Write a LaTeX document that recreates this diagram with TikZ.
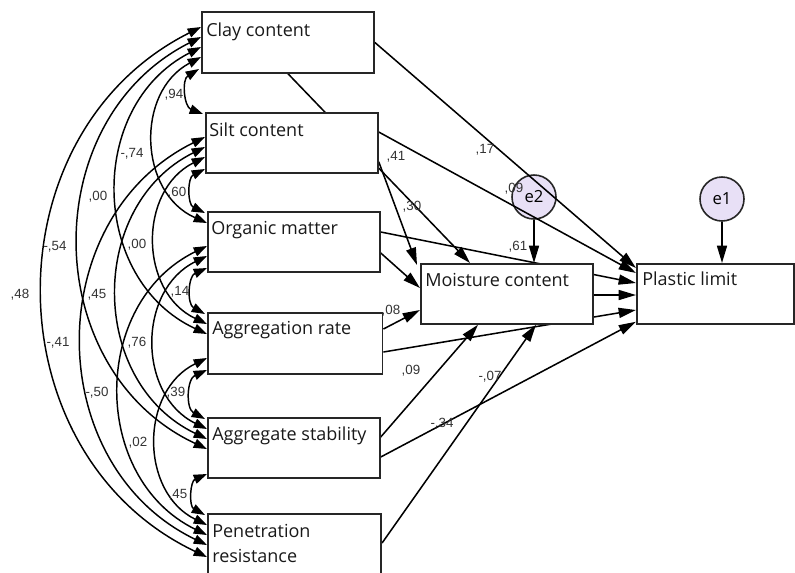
\documentclass[tikz,border=0pt]{standalone}
\usepackage{fontspec}
\setmainfont{Open Sans}
\newfontfamily\coeffont{Liberation Sans}
\usetikzlibrary{arrows.meta,calc}
\pgfdeclarelayer{circ}
\pgfdeclarelayer{lines}
\pgfsetlayers{circ,lines,main}
\definecolor{errfill}{RGB}{232,224,246}
\begin{document}
\begin{tikzpicture}[x=0.75pt,y=-0.75pt,
  box/.style={draw=black!85, line width=1.3pt, fill=white, anchor=north west,
    minimum height=45pt, inner sep=0pt},
  boxtext/.style={anchor=base west, inner sep=0pt, font=\fontsize{13.5}{16}\selectfont, text=black!90},
  errvar/.style={circle, draw=black!85, line width=1.2pt, fill=errfill, minimum size=33pt,
    inner sep=0pt, font=\fontsize{12.5}{14}\selectfont},
  coef/.style={inner sep=0.5pt, font=\coeffont\fontsize{10}{11}\selectfont, text=black!80},
  regpath/.style={line width=1.15pt, -{Triangle[length=13pt,width=7.5pt]}},
  cov/.style={line width=1.1pt, {Triangle[length=10pt,width=7pt]}-{Triangle[length=10pt,width=7pt]},
    bend right=64, looseness=1.15}]
\useasboundingbox (0,0) rectangle (795,572);

% observed variables
\node[box, minimum width=129pt, minimum height=45.75pt] (clay) at (201,11) {};
\node[box, minimum width=129pt] (silt) at (205,112) {};
\node[box, minimum width=129pt] (org)  at (207,211) {};
\node[box, minimum width=131pt, minimum height=45.75pt] (agg)  at (207,312) {};
\node[box, minimum width=129pt] (stab) at (207,417) {};
\node[box, minimum width=130pt, minimum height=48pt] (pen)  at (207,513) {};
\node[box, minimum width=129pt] (mc)   at (420,263) {};
\node[box, minimum width=118pt] (pl)   at (636,263) {};

\node[boxtext] (clayT) at ($(clay.north west)+(5,25)$) {Clay content};
\node[boxtext] (siltT) at ($(silt.north west)+(4,24)$) {Silt content};
\node[boxtext] (orgT)  at ($(org.north west)+(4,23)$) {Organic matter};
\node[boxtext] (aggT)  at ($(agg.north west)+(5,22)$) {Aggregation rate};
\node[boxtext] (stabT) at ($(stab.north west)+(5,23)$) {Aggregate stability};
\node[boxtext] (penT1) at ($(pen.north west)+(5,24)$) {Penetration};
\node[boxtext] (penT2) at ($(pen.north west)+(5,49)$) {resistance};
\node[boxtext] (mcT)   at ($(mc.north west)+(5,23)$) {Moisture content};
\node[boxtext] (plT)   at ($(pl.north west)+(6,22)$) {Plastic limit};

% error terms
\begin{pgfonlayer}{circ}
\node[errvar] (e2) at (534,197) {e2};
\node[errvar] (e1) at (722,199) {e1};
\end{pgfonlayer}

\begin{pgfonlayer}{lines}
% covariances between the exogenous variables
\draw[cov] ($(clay.north west)+(-2,58)$) to ($(silt.north west)+(-2,2)$);
\draw[cov] ($(silt.north west)+(0,57)$) to ($(org.north west)+(-2,2)$);
\draw[cov] ($(org.north west)+(0,57)$) to ($(agg.north west)+(-2,2)$);
\draw[cov] ($(agg.north west)+(0,58)$) to ($(stab.north west)+(-2,2)$);
\draw[cov] ($(stab.north west)+(0,57)$) to ($(pen.north west)+(-2,2)$);

\draw[cov] ($(clay.north west)+(0,46)$) to ($(org.north west)+(0,12)$);
\draw[cov] ($(silt.north west)+(0,45)$) to ($(agg.north west)+(0,12)$);
\draw[cov] ($(org.north west)+(0,45)$) to ($(stab.north west)+(0,12)$);
\draw[cov] ($(agg.north west)+(0,46)$) to ($(pen.north west)+(0,12)$);

\draw[cov] ($(clay.north west)+(0,36)$) to ($(agg.north west)+(0,22)$);
\draw[cov] ($(silt.north west)+(0,35)$) to ($(stab.north west)+(0,22)$);
\draw[cov] ($(org.north west)+(0,35)$) to ($(pen.north west)+(0,22)$);

\draw[cov] ($(clay.north west)+(0,26)$) to ($(stab.north west)+(0,32)$);
\draw[cov] ($(silt.north west)+(0,25)$) to ($(pen.north west)+(0,32)$);

\draw[cov] ($(clay.north west)+(0,16)$) to ($(pen.north west)+(0,44)$);

% regression paths
\draw[regpath] (clay.east) -- ($(pl.north west)+(0,5)$);
\draw[regpath] ($(clay.south west)+(87,0)$) -- ($(mc.north west)+(50,0)$);
\draw[regpath] ($(silt.north east)+(0,20)$) -- ($(pl.north west)+(0,10)$);
\draw[regpath] ($(silt.south east)+(0,-12)$) -- ($(mc.north west)+(-3,2)$);
\draw[regpath] ($(org.north east)+(0,21)$) -- ($(pl.north west)+(0,20)$);
\draw[regpath] ($(org.north east)+(0,42)$) -- ($(mc.north west)+(0,25)$);
\draw[regpath] ($(agg.north east)+(0,17)$) -- ($(mc.north west)+(0,47)$);
\draw[regpath] ($(agg.north east)+(0,40)$) -- ($(pl.north west)+(0,47)$);
\draw[regpath] ($(mc.north east)+(0,32)$) -- ($(pl.north west)+(0,32)$);
\draw[regpath] ($(stab.north east)+(0,20)$) -- ($(mc.south west)+(58,0)$);
\draw[regpath] ($(stab.north east)+(0,40)$) -- ($(pl.south west)+(0,-3)$);
\draw[regpath] ($(pen.north east)+(0,30)$) -- ($(mc.south west)+(116,0)$);
\draw[regpath] (e2.south) -- (e2.south |- mc.north);
\draw[regpath] (e1.south) -- (e1.south |- pl.north);
\end{pgfonlayer}

% covariance estimates
\node[coef] (c1)  at (174,95)  {,94};
\node[coef] (c2)  at (177,193) {,60};
\node[coef] (c3)  at (180,292) {,14};
\node[coef] (c4)  at (176,393) {,39};
\node[coef] (c5)  at (178,495) {,45};
\node[coef] (c6)  at (132,154) {-,74};
\node[coef] (c7)  at (137,245) {,00};
\node[coef] (c8)  at (137,343) {,76};
\node[coef] (c9)  at (138,443) {,02};
\node[coef] (c10) at (98,197)  {,00};
\node[coef] (c11) at (97,295)  {,45};
\node[coef] (c12) at (97,393)  {-,50};
\node[coef] (c13) at (55,247)  {-,54};
\node[coef] (c14) at (58,343)  {-,41};
\node[coef] (c15) at (20,295)  {,48};

% path estimates
\node[coef] (p1) at (396,157) {,41};
\node[coef] (p2) at (412,207) {,30};
\node[coef] (p3) at (485,150) {,17};
\node[coef] (p4) at (514,189) {,09};
\node[coef] (p5) at (518,247) {,61};
\node[coef] (p6) at (391,311) {,08};
\node[coef] (p7) at (411,371) {,09};
\node[coef] (p8) at (490,377) {-,07};
\node[coef] (p9) at (442,424) {-,34};
\end{tikzpicture}
\end{document}
